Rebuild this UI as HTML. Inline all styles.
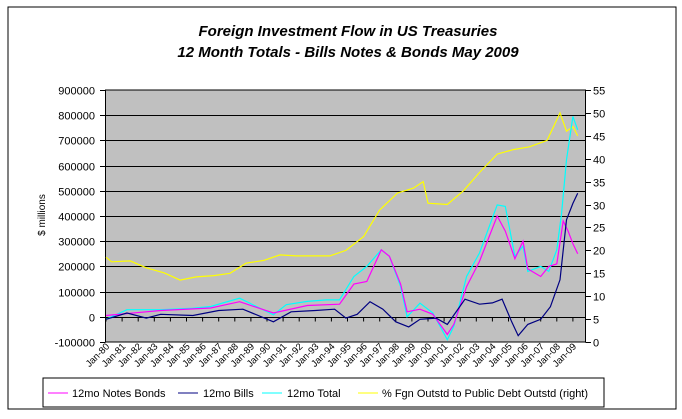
<!DOCTYPE html>
<html><head><meta charset="utf-8"><style>
body{margin:0;background:#fff;}
svg{display:block;font-family:"Liberation Sans",Arial,sans-serif;}
</style></head><body>
<svg width="682" height="419" viewBox="0 0 682 419">
<rect x="8" y="7" width="668" height="402" fill="#fff" stroke="#000" stroke-width="1"/>
<text x="348" y="36" text-anchor="middle" font-size="15" font-weight="bold" font-style="italic">Foreign Investment Flow in US Treasuries</text>
<text x="348" y="57" text-anchor="middle" font-size="15" font-weight="bold" font-style="italic">12 Month Totals - Bills Notes &amp; Bonds May 2009</text>
<rect x="105.5" y="90" width="480" height="252" fill="#c0c0c0" stroke="#000"/>
<g id="grid"></g><g id="axes"></g><g id="series"></g>
<text transform="translate(45,215) rotate(-90)" text-anchor="middle" font-size="10" fill="#000">$ millions</text>
<rect x="43" y="378" width="561" height="29" fill="#fff" stroke="#000"/>
<g><line x1="48" y1="393" x2="68" y2="393" stroke="#ff00ff"/><text x="72" y="397" font-size="11">12mo Notes Bonds</text></g>
<g><line x1="178" y1="393" x2="198" y2="393" stroke="#000080"/><text x="203" y="397" font-size="11">12mo Bills</text></g>
<g><line x1="262" y1="393" x2="282" y2="393" stroke="#00ffff"/><text x="287" y="397" font-size="11">12mo Total</text></g>
<g><line x1="358" y1="393" x2="378" y2="393" stroke="#ffff00"/><text x="382" y="397" font-size="11">% Fgn Outstd to Public Debt Outstd (right)</text></g>
</svg>
<script>
const leftTicks=[-100000,0,100000,200000,300000,400000,500000,600000,700000,800000,900000];
const rightTicks=[0,5,10,15,20,25,30,35,40,45,50,55];
const xLabels=["Jan-80","Jan-81","Jan-82","Jan-83","Jan-84","Jan-85","Jan-86","Jan-87","Jan-88","Jan-89","Jan-90","Jan-91","Jan-92","Jan-93","Jan-94","Jan-95","Jan-96","Jan-97","Jan-98","Jan-99","Jan-00","Jan-01","Jan-02","Jan-03","Jan-04","Jan-05","Jan-06","Jan-07","Jan-08","Jan-09"];
const totalDates=[1980.0,1981.3,1983.4,1985.4,1986.5,1988.3,1990.4,1991.2,1992.5,1993.7,1994.5,1995.4,1996.2,1997.1,1997.6,1998.3,1998.7,1999.5,2000.3,2001.2,2001.6,2002.4,2003.2,2004.3,2004.8,2005.4,2005.9,2006.2,2007.0,2007.5,2008.0,2008.3,2008.6,2009.0,2009.3];
const totalVals=[-10000,28000,28000,34000,41000,74000,8000,48000,61000,67000,67000,160000,200000,266000,240000,120000,0,54000,15000,-91000,-38000,160000,253000,444000,438000,240000,280000,180000,200000,180000,266000,411000,623000,795000,742000];
const notesDates=[1980.0,1983.4,1986.5,1988.3,1990.4,1992.5,1994.5,1995.4,1996.2,1997.1,1997.6,1998.3,1998.7,1999.5,2000.3,2001.2,2001.6,2002.4,2003.2,2004.3,2004.8,2005.4,2005.9,2006.2,2007.0,2007.5,2008.0,2008.4,2008.7,2009.0,2009.3];
const notesVals=[5000,25000,35000,60000,15000,45000,50000,130000,140000,266000,240000,130000,20000,30000,10000,-70000,-30000,120000,220000,400000,340000,230000,300000,190000,160000,200000,210000,380000,340000,290000,250000];
const billsDates=[1980.0,1981.3,1982.5,1983.4,1985.4,1987.0,1988.5,1990.4,1991.5,1993.0,1994.2,1994.9,1995.6,1996.4,1997.2,1998.0,1998.8,1999.5,2000.5,2001.2,2002.3,2003.2,2004.0,2004.6,2005.2,2005.6,2006.2,2007.0,2007.6,2008.2,2008.6,2009.0,2009.3];
const billsVals=[-10000,15000,-5000,10000,5000,25000,30000,-20000,20000,25000,30000,-5000,10000,60000,30000,-20000,-40000,-10000,-5000,-30000,70000,50000,55000,70000,-20000,-75000,-30000,-10000,40000,147000,385000,450000,490000];
const pctDates=[1980.0,1980.35,1981.5,1982.5,1983.6,1984.6,1985.6,1986.7,1987.7,1988.7,1989.8,1990.8,1991.8,1993.9,1994.9,1996.0,1997.0,1998.1,1999.1,1999.7,2000.0,2001.2,2002.2,2003.2,2004.3,2005.3,2006.3,2007.4,2008.2,2008.6,2009.0,2009.3];
const pctVals=[18.5,17.5,17.7,16.2,15.1,13.5,14.2,14.5,15,17.2,17.8,19,18.8,18.8,20,23,28.8,32.5,33.6,35,30.3,30,33,37,41,42,42.6,44,50,46,47,45];

const NS="http://www.w3.org/2000/svg";
const X0=106,PX=16.1,TOP=90,BOT=342;
function xs(t){return X0+(t-1980)*PX;}
function yl(v){return BOT-(v+100000)/1000000*(BOT-TOP);}
function yr(v){return BOT-v/55*(BOT-TOP);}
function mk(tag,attrs,parent){const e=document.createElementNS(NS,tag);for(const k in attrs)e.setAttribute(k,attrs[k]);parent.appendChild(e);return e;}
const grid=document.getElementById('grid'),axes=document.getElementById('axes'),ser=document.getElementById('series');
leftTicks.forEach(v=>{
  const y=Math.round(yl(v))+0.5;
  if(v>-100000&&v<900000){const g=mk('line',{x1:105.5,x2:585.5,y1:y,y2:y,stroke:'#000'},grid);
  
  }
  mk('line',{x1:100,x2:105.5,y1:y,y2:y,stroke:'#000'},axes);
  const t=mk('text',{x:95,y:y+4,'text-anchor':'end','font-size':11},axes);t.textContent=v;
  
  
});
rightTicks.forEach(v=>{
  const y=Math.round(yr(v))+0.5;
  mk('line',{x1:585.5,x2:591,y1:y,y2:y,stroke:'#000'},axes);
  const t=mk('text',{x:593,y:y+4,'font-size':11},axes);t.textContent=v;
  
  
});
const y0=Math.round(yl(0))+0.5;
mk('line',{x1:105.5,x2:585.5,y1:y0,y2:y0,stroke:'#000'},axes);
xLabels.forEach((l,i)=>{
  const x=xs(1980+i);
  mk('line',{x1:x,x2:x,y1:y0,y2:y0+4,stroke:'#000'},axes);
  const t=mk('text',{'text-anchor':'end','font-size':9.5,transform:`translate(${x+4},${BOT+5}) rotate(-45)`},axes);t.textContent=l;
  
  
});
function line(d,v,yf,col,name){
  const pts=d.map((t,i)=>xs(t).toFixed(1)+','+yf(v[i]).toFixed(1)).join(' ');
  const p=mk('polyline',{points:pts,fill:'none',stroke:col,'stroke-width':1.2},ser);
  
  
}
line(pctDates,pctVals,yr,'#ffff00','series-pct-foreign');
line(totalDates,totalVals,yl,'#00ffff','series-total');
line(notesDates,notesVals,yl,'#ff00ff','series-notes-bonds');
line(billsDates,billsVals,yl,'#000080','series-bills');
</script>
</body></html>
